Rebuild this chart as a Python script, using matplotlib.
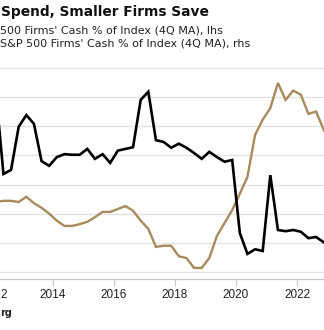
import numpy as np
import matplotlib
matplotlib.use("Agg")
import matplotlib.pyplot as plt

# Quarterly observations (4Q moving averages)
quarters = [2012.125 + 0.25 * i for i in range(45)]

small_cash_lhs = [6.10, 4.68, 4.75, 5.49, 5.69, 5.54, 4.90, 4.82, 4.97, 5.02,
                  5.01, 5.01, 5.11, 4.94, 5.02, 4.87, 5.08, 5.11, 5.14, 5.95,
                  6.09, 5.26, 5.23, 5.13, 5.20, 5.13, 5.04, 4.94, 5.06, 4.97,
                  4.89, 4.92, 3.67, 3.31, 3.39, 3.36, 4.66, 3.72, 3.70, 3.72,
                  3.69, 3.58, 3.60, 3.51, 3.45]

sp500_cash_rhs = [6.20, 6.22, 6.22, 6.20, 6.29, 6.18, 6.10, 6.00, 5.88, 5.79,
                  5.79, 5.82, 5.86, 5.94, 6.03, 6.03, 6.08, 6.13, 6.05, 5.88,
                  5.74, 5.43, 5.45, 5.45, 5.27, 5.24, 5.07, 5.07, 5.24, 5.62,
                  5.84, 6.06, 6.34, 6.63, 7.35, 7.61, 7.81, 8.24, 7.95, 8.11,
                  8.04, 7.71, 7.75, 7.44, 7.18]

year_ticks = [2014, 2016, 2018, 2020, 2022]
year_labels = ["2014", "2016", "2018", "2020", "2022"]
cut_year_label = "2"   # visible remnant of the cropped "2012" label

title = "Spend, Smaller Firms Save"
legend_lhs = "500 Firms' Cash % of Index (4Q MA), lhs"
legend_rhs = "S&P 500 Firms' Cash % of Index (4Q MA), rhs"
source = "rg"

BLACK = "#000000"
GOLD = "#a88b5c"

W, H = 324, 330
fig = plt.figure(figsize=(W / 100, H / 100), dpi=100)

# axes extends beyond the visible canvas (cropped chart)
left_px, right_px = -30, 340
top_px, bottom_px = 55, 279
ax = fig.add_axes([left_px / W, (H - bottom_px) / H,
                   (right_px - left_px) / W, (bottom_px - top_px) / H])

def px_to_year(p):
    return 2014 + (p - 53) / 30.5

ax.set_xlim(px_to_year(left_px), px_to_year(right_px))
ax.set_ylim(2.88, 6.72)
ax.set_yticks([3.0, 3.5, 4.0, 4.5, 5.0, 5.5, 6.0, 6.5])
ax.yaxis.grid(True, color="#e3e3e3", linewidth=1.0)
ax.set_axisbelow(True)
ax.tick_params(axis="y", left=False, labelleft=False)
for s in ["left", "right", "top"]:
    ax.spines[s].set_visible(False)
ax.spines["bottom"].set_color("#c8c8c8")
ax.spines["bottom"].set_linewidth(1.0)
ax.set_xticks(year_ticks)
ax.set_xticklabels(year_labels)
ax.tick_params(axis="x", length=5, width=0.8, color="#c8c8c8",
               labelsize=8.5, pad=2.5, labelcolor="#222222")
for lab in ax.get_xticklabels():
    lab.set_family("Liberation Sans")

ax2 = ax.twinx()
ax2.set_ylim(4.88, 8.72)
ax2.axis("off")
ax2.plot(quarters, sp500_cash_rhs, color=GOLD, linewidth=1.7,
         solid_joinstyle="miter")

ax3 = ax.twinx()
ax3.set_ylim(2.88, 6.72)
ax3.axis("off")
ax3.plot(quarters, small_cash_lhs, color=BLACK, linewidth=1.9,
         solid_joinstyle="miter")

fig.text(0 / W, 1 - 294.5 / H, cut_year_label, fontsize=8.5,
         family="Liberation Sans", va="center", ha="left", color="#222222")

fig.text(1 / W, 1 - 12 / H, title, fontsize=9.9, fontweight="bold",
         family="DejaVu Sans", va="center", ha="left", color="#111111")
fig.text(0 / W, 1 - 30.5 / H, legend_lhs, fontsize=8.0,
         family="DejaVu Sans", va="center", ha="left", color="#222222")
fig.text(0 / W, 1 - 43.5 / H, legend_rhs, fontsize=8.0,
         family="DejaVu Sans", va="center", ha="left", color="#222222")
fig.text(0 / W, 1 - 313 / H, source, fontsize=7, fontweight="bold",
         family="DejaVu Sans", va="center", ha="left", color="#222222")

fig.savefig("out.png", dpi=100)
